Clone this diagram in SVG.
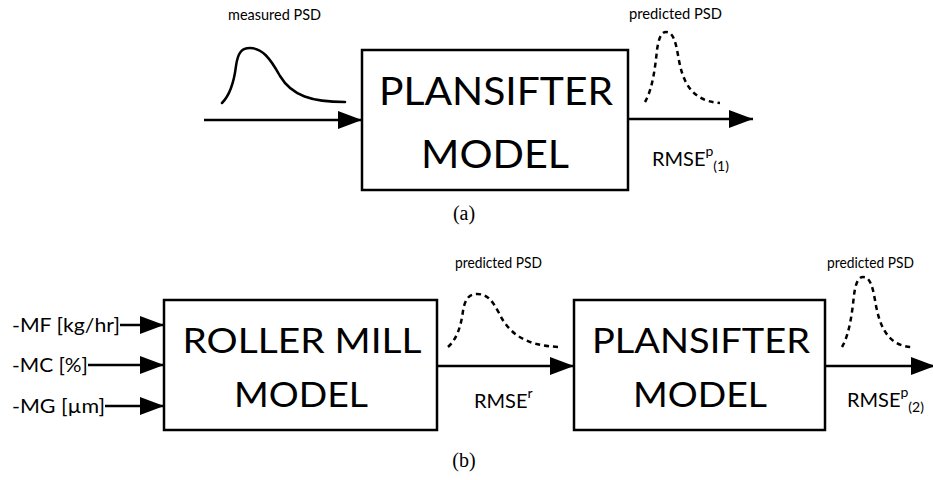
<svg xmlns="http://www.w3.org/2000/svg" width="933" height="480" viewBox="0 0 933 480">
  <defs>
    <marker id="arrow" markerUnits="userSpaceOnUse" markerWidth="24" markerHeight="18" refX="24" refY="9" orient="auto">
      <path d="M0,0 L24,9 L0,18 Z" fill="#000"/>
    </marker>
    <style>
      .box { fill: #fff; stroke: #000; stroke-width: 2.5; }
      .big { font-family: Lato, "Liberation Sans", sans-serif; fill: #000; text-anchor: middle; }
      .lbl { font-family: Lato, "Liberation Sans", sans-serif; fill: #000; }
      .small { font-family: Lato, "Liberation Sans", sans-serif; font-size: 15px; fill: #000; }
      .cap { font-family: "Liberation Serif", "Times New Roman", serif; font-size: 20px; fill: #000; text-anchor: middle; }
      .wire { stroke: #000; stroke-width: 2.5; fill: none; marker-end: url(#arrow); }
      .psd { stroke: #000; stroke-width: 2.5; fill: none; stroke-linecap: round; }
      .psd-dash { stroke: #000; stroke-width: 2.5; fill: none; stroke-dasharray: 5 4; }
    </style>
  </defs>

  <!-- (a) single plansifter model -->
  <g id="plansifter-a">
    <rect class="box" x="362" y="50" width="266" height="140"/>
    <text class="big" x="496" y="105" font-size="39" textLength="234" lengthAdjust="spacingAndGlyphs">PLANSIFTER</text>
    <text class="big" x="495" y="168" font-size="39" textLength="148" lengthAdjust="spacingAndGlyphs">MODEL</text>
  </g>

  <g id="measured-psd">
    <text class="small" x="228" y="20" textLength="93" lengthAdjust="spacingAndGlyphs">measured PSD</text>
    <path class="psd" d="M222,103 C230,95 234,82 236,66 C238,52 242,48 250,48 C262,48 270,58 280,76 C292,96 312,102 345,102"/>
  </g>

  <g id="predicted-psd-a">
    <text class="small" x="629" y="19" textLength="93" lengthAdjust="spacingAndGlyphs">predicted PSD</text>
    <path class="psd-dash" d="M645,102 C652,90 655,70 657,50 C659,36 662,32 666,32 C672,32 675,38 678,55 C682,80 690,101 720,103"/>
  </g>

  <g id="rmse-p1">
    <text class="lbl" x="652" y="166" font-size="20">RMSE<tspan font-size="14" dy="-10">p</tspan><tspan font-size="14" dy="15">(1)</tspan></text>
  </g>

  <text class="cap" x="464" y="220">(a)</text>

  <!-- (b) roller mill feeding the plansifter -->
  <g id="roller-mill">
    <rect class="box" x="164" y="300" width="273" height="130"/>
    <text class="big" x="302" y="353" font-size="35" textLength="239" lengthAdjust="spacingAndGlyphs">ROLLER MILL</text>
    <text class="big" x="301" y="407" font-size="35" textLength="134" lengthAdjust="spacingAndGlyphs">MODEL</text>
  </g>

  <g id="plansifter-b">
    <rect class="box" x="574" y="300" width="251" height="130"/>
    <text class="big" x="701" y="353" font-size="35" textLength="218" lengthAdjust="spacingAndGlyphs">PLANSIFTER</text>
    <text class="big" x="700" y="407" font-size="35" textLength="134" lengthAdjust="spacingAndGlyphs">MODEL</text>
  </g>

  <g id="input-mf">
    <text class="lbl" x="12" y="332" font-size="19" textLength="108" lengthAdjust="spacingAndGlyphs">-MF [kg/hr]</text>
  </g>
  <g id="input-mc">
    <text class="lbl" x="12" y="372" font-size="19" textLength="76" lengthAdjust="spacingAndGlyphs">-MC [%]</text>
  </g>
  <g id="input-mg">
    <text class="lbl" x="12" y="413" font-size="19" textLength="93" lengthAdjust="spacingAndGlyphs">-MG [µm]</text>
  </g>

  <g id="predicted-psd-r">
    <text class="small" x="455" y="268" textLength="87" lengthAdjust="spacingAndGlyphs">predicted PSD</text>
    <path class="psd-dash" d="M448,347 C457,339 461,326 463,311 C465,298 470,294 477,294 C487,294 492,300 499,313 C509,334 526,346 560,347"/>
  </g>

  <g id="rmse-r">
    <text class="lbl" x="474" y="408" font-size="20">RMSE<tspan font-size="14" dy="-10">r</tspan></text>
  </g>

  <g id="predicted-psd-b">
    <text class="small" x="827" y="268" textLength="87" lengthAdjust="spacingAndGlyphs">predicted PSD</text>
    <path class="psd-dash" d="M842,347 C849,335 852,315 854,295 C856,281 859,277 863,277 C869,277 872,283 875,300 C879,325 887,346 912,347"/>
  </g>

  <g id="rmse-p2">
    <text class="lbl" x="847" y="407" font-size="20">RMSE<tspan font-size="14" dy="-10">p</tspan><tspan font-size="14" dy="15">(2)</tspan></text>
  </g>

  <text class="cap" x="464" y="467">(b)</text>

  <!-- connectors -->
  <g id="connectors">
    <line class="wire" x1="204" y1="120" x2="362" y2="120"/>
    <line class="wire" x1="628" y1="119" x2="753" y2="119"/>
    <line class="wire" x1="120" y1="325" x2="164" y2="325"/>
    <line class="wire" x1="88" y1="365" x2="164" y2="365"/>
    <line class="wire" x1="105" y1="406" x2="164" y2="406"/>
    <line class="wire" x1="437" y1="366" x2="574" y2="366"/>
    <line class="wire" x1="825" y1="366" x2="935" y2="366"/>
  </g>
</svg>
